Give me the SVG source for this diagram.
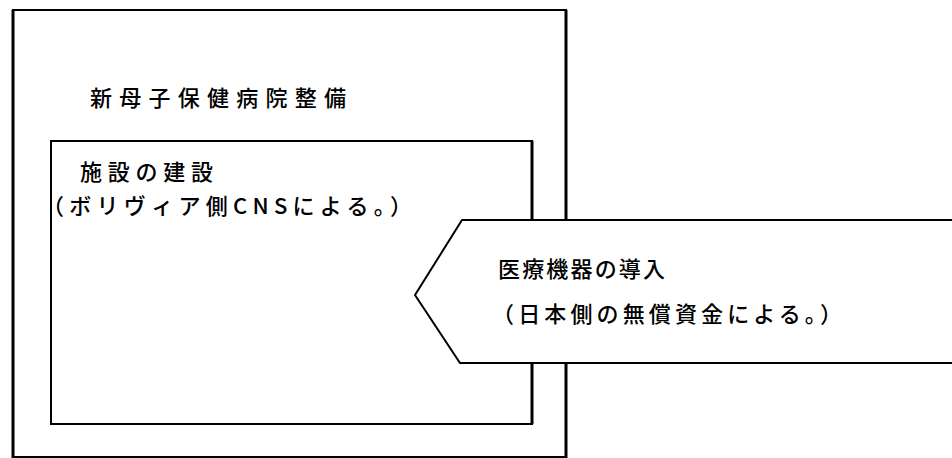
<svg xmlns="http://www.w3.org/2000/svg" width="952" height="458" viewBox="0 0 952 458">
<style>
.box{fill:none;stroke:#000;stroke-width:2}
.edge{stroke:#000;stroke-width:3}
.shape{fill:#fff;stroke:#000;stroke-width:2;stroke-linejoin:miter}
.t{font-family:"Noto Sans CJK JP","Noto Sans CJK SC",sans-serif;font-size:22px;font-weight:500;fill:#000}
</style>
<rect x="0" y="0" width="952" height="458" fill="#fff"/>
<g id="outer">
<rect class="box" x="13" y="10" width="553" height="447"/>
<line class="edge" x1="13" y1="10" x2="13" y2="458"/>
<line class="edge" x1="566" y1="10" x2="566" y2="458"/>
<text class="t" x="90" y="106" textLength="256" lengthAdjust="spacing">新母子保健病院整備</text>
</g>
<g id="inner">
<rect class="box" x="51" y="141" width="481" height="283"/>
<line class="edge" x1="532" y1="141" x2="532" y2="424"/>
<text class="t" x="80" y="180" textLength="133" lengthAdjust="spacing">施設の建設</text>
<text class="t" x="42" y="214" textLength="370" lengthAdjust="spacing">（ボリヴィア側CNSによる。）</text>
</g>
<g id="equipment">
<polygon class="shape" points="415,295 462,220 960,220 960,363 460,363"/>
<text class="t" x="498" y="277" textLength="167" lengthAdjust="spacing">医療機器の導入</text>
<text class="t" x="492" y="322" textLength="350" lengthAdjust="spacing">（日本側の無償資金による。）</text>
</g>
<g id="connectors"></g>
</svg>
